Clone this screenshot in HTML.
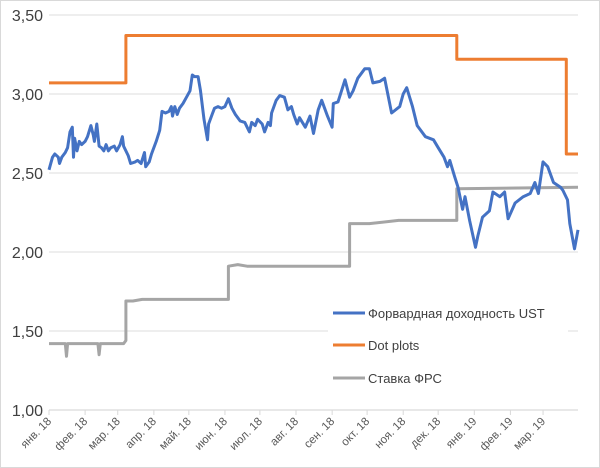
<!DOCTYPE html>
<html><head><meta charset="utf-8">
<style>
html,body{margin:0;padding:0;background:#fff;}
#wrap{width:600px;height:468px;position:relative;overflow:hidden;}
svg{font-family:"Liberation Sans","DejaVu Sans",sans-serif;}
</style></head>
<body>
<div id="wrap">
<svg id="chart" width="600" height="468" viewBox="0 0 600 468"></svg>
</div>
<script>
// ---- data ----
const monthLabels = ["янв. 18","фев. 18","мар. 18","апр. 18","май. 18","июн. 18","июл. 18","авг. 18","сен. 18","окт. 18","ноя. 18","дек. 18","янв. 19","фев. 19","мар. 19"];
const monthStartDays = [0,31,59,90,120,151,181,212,243,273,304,334,365,396,424];
const yTicks = [1.0,1.5,2.0,2.5,3.0,3.5];
const yTickLabels = ["1,00","1,50","2,00","2,50","3,00","3,50"];
const ustDays = [
0,3,5,8,9,11,14,16,18,20,
21,22,24,26,28,31,33,36,38,39,
41,43,45,47,49,51,53,56,58,61,
63,64,66,68,70,74,76,79,82,83,
86,88,92,95,97,100,103,105,106,108,
110,112,115,118,121,123,125,128,130,133,
136,137,140,142,145,148,151,154,157,160,
164,168,172,174,177,179,183,185,188,190,
191,195,198,202,205,208,210,213,215,220,
224,227,231,234,239,243,244,248,254,258,
261,265,271,275,278,284,288,294,301,304,
307,312,316,323,330,334,339,342,344,348,
351,355,357,361,366,368,372,378,381,387,
391,394,400,407,413,417,420,424,428,433,
439,441,445,447,451,454];
const ustValues = [
2.52,2.60,2.62,2.60,2.56,2.60,2.63,2.66,2.76,2.79,
2.60,2.72,2.64,2.70,2.68,2.70,2.73,2.80,2.74,2.70,
2.81,2.67,2.66,2.64,2.68,2.64,2.66,2.67,2.64,2.68,
2.73,2.67,2.64,2.61,2.56,2.57,2.58,2.56,2.63,2.54,
2.57,2.62,2.70,2.77,2.89,2.88,2.89,2.92,2.86,2.92,
2.87,2.91,2.94,2.98,3.02,3.12,3.11,3.11,3.02,2.84,
2.71,2.81,2.87,2.91,2.92,2.91,2.92,2.97,2.91,2.87,
2.83,2.82,2.76,2.82,2.80,2.84,2.81,2.76,2.82,2.80,
2.88,2.96,2.99,2.98,2.90,2.92,2.87,2.81,2.85,2.79,
2.86,2.75,2.90,2.96,2.86,2.79,2.94,2.95,3.09,2.98,
3.02,3.10,3.16,3.16,3.07,3.08,3.10,2.88,2.92,3.00,
3.04,2.92,2.80,2.73,2.71,2.66,2.60,2.54,2.58,2.48,
2.41,2.27,2.35,2.20,2.03,2.10,2.22,2.26,2.38,2.35,
2.38,2.21,2.31,2.35,2.37,2.44,2.37,2.57,2.54,2.44,
2.41,2.39,2.33,2.18,2.02,2.14];
const dotDays = [0,66,66,350,350,444,444,454];
const dotValues = [3.07,3.07,3.37,3.37,3.22,3.22,2.62,2.62];
const fedDays = [0,14,15,16,42,43,44,64,66,66,72,80,100,154,154,162,170,258,258,275,300,340,350,350,454];
const fedValues = [1.42,1.42,1.34,1.42,1.42,1.35,1.42,1.42,1.44,1.69,1.69,1.70,1.70,1.70,1.91,1.92,1.91,1.91,2.18,2.18,2.20,2.20,2.20,2.40,2.41];

// ---- axes ----
const X0=49, X1=578, Y0=410, Y1=15, D1=454;
const xs = d => X0 + d*(X1-X0)/D1;
const ys = v => Y0 - (v-1.0)*(Y0-Y1)/2.5;
const NS="http://www.w3.org/2000/svg";
const svg=document.getElementById('chart');
function mk(tag,attrs,parent){const e=document.createElementNS(NS,tag);for(const k in attrs)e.setAttribute(k,attrs[k]);(parent||svg).appendChild(e);return e;}

const border=mk('rect',{x:0.5,y:0.5,width:599,height:467,fill:'#fff',stroke:'#d9d9d9'});



const grid=mk('g',{});


const yax=mk('g',{});


yTicks.forEach((v,i)=>{
  if(i>0){const l=mk('line',{x1:X0,x2:X1,y1:ys(v),y2:ys(v),stroke:'#e3e3e3','stroke-width':1.3},grid);
  
  }
  const t=mk('text',{x:43,y:ys(v)+6,'text-anchor':'end','font-size':16,fill:'#404040'},yax);
  t.textContent=yTickLabels[i];
  
  
});
const xax=mk('g',{});


const axl=mk('line',{x1:X0,x2:X1,y1:Y0,y2:Y0,stroke:'#d9d9d9','stroke-width':1.3},xax);


monthStartDays.forEach((d,i)=>{
  const x=xs(d);
  const tk=mk('line',{x1:x,x2:x,y1:Y0,y2:Y0+5,stroke:'#d9d9d9'},xax);
  
  
  const t=mk('text',{x:x+3,y:Y0+12,'text-anchor':'end','font-size':11.5,fill:'#595959',transform:`rotate(-45 ${x+3} ${Y0+12})`},xax);
  t.textContent=monthLabels[i];
  
  
});

function series(days,vals,color,name){
  const p=days.map((d,i)=>(i?'L':'M')+xs(d).toFixed(1)+' '+ys(vals[i]).toFixed(1)).join(' ');
  const e=mk('path',{d:p,fill:'none',stroke:color,'stroke-width':3,'stroke-linejoin':'round'});
  
  
}
series(fedDays,fedValues,'#A5A5A5','fed-rate-line');
series(dotDays,dotValues,'#ED7D31','dot-plots-line');
series(ustDays,ustValues,'#4472C4','ust-forward-yield-line');

// legend
const lg=mk('g',{});


const bg=mk('rect',{x:328,y:300,width:240,height:92,fill:'#fff'},lg);


[["Форвардная доходность UST",'#4472C4',313],["Dot plots",'#ED7D31',345],["Ставка ФРС",'#A5A5A5',378]].forEach(([txt,c,y])=>{
  const g=mk('g',{},lg);
  
  
  mk('line',{x1:333,x2:365,y1:y,y2:y,stroke:c,'stroke-width':3},g);
  const t=mk('text',{x:368,y:y+5,'font-size':13,fill:'#404040'},g);
  t.textContent=txt;
});
</script>
</body></html>
